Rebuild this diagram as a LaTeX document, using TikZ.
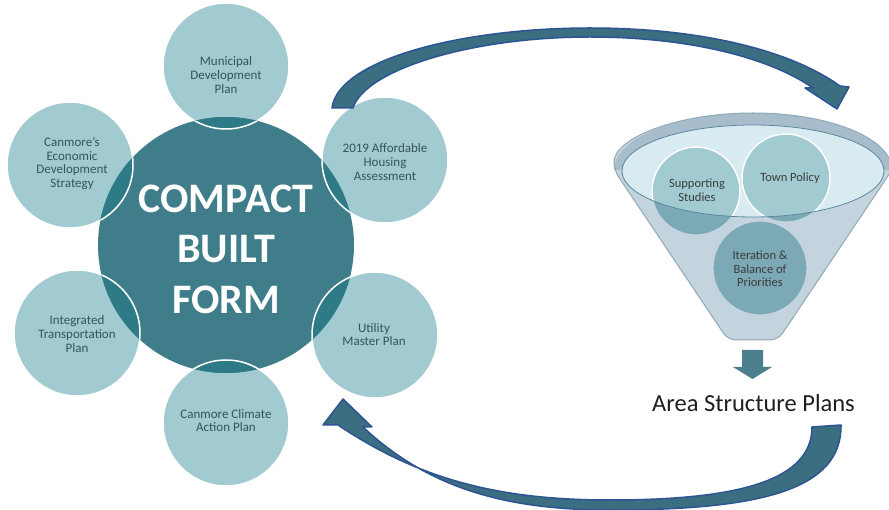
\documentclass[tikz,border=0pt]{standalone}
\usepackage{fontspec}
\setmainfont{Carlito}
\definecolor{satfill}{HTML}{A1CBD1}
\definecolor{cenfill}{HTML}{407D8A}
\definecolor{lensfill}{HTML}{2E7A86}
\definecolor{sattext}{HTML}{35545D}
\definecolor{funtext}{HTML}{3C3C3C}
\definecolor{arrfill}{HTML}{3B6E80}
\definecolor{arrline}{HTML}{2D5593}
\definecolor{conefill}{HTML}{C4D4DE}
\definecolor{rimfill}{HTML}{A8BDCB}
\definecolor{openfill}{HTML}{D8EBF1}
\definecolor{openline}{HTML}{5A88A2}
\definecolor{coneline}{HTML}{90A8B8}
\definecolor{darkcirc}{HTML}{7CA9B6}
\definecolor{downarr}{HTML}{4B7F8E}
\begin{document}
\begin{tikzpicture}[x=1pt,y=-1pt,
  sat/.style={circle,fill=satfill,draw=white,line width=1.5pt,minimum size=126pt,inner sep=0pt},
  cen/.style={circle,fill=cenfill,minimum size=256pt,inner sep=0pt},
  stxt/.style={align=center,text=sattext,font=\fontsize{13}{13.9}\selectfont,inner sep=0pt},
  ftxt/.style={align=center,text=funtext,font=\fontsize{12.5}{13.5}\selectfont,inner sep=0pt},
  fcirc/.style={circle,fill=darkcirc,draw=conefill,line width=1.2pt,inner sep=0pt},
  bigarrow/.style={fill=arrfill,draw=arrline,line width=1.5pt,line join=round}]
\useasboundingbox (0,0) rectangle (889,510);
\fill[white] (0,0) rectangle (889,510);

% satellites
\node[sat] (municipal) at (226,66) {};
\node[sat] (housing) at (385,160) {};
\node[sat] (econ) at (70,165) {};
\node[sat] (transport) at (77,333) {};
\node[sat] (utility) at (375,335) {};
\node[sat] (climate) at (226,423) {};
% central
\node[cen] (cbf) at (226,245) {};
\begin{scope}
  \clip (cbf.center) circle[radius=128pt];
  \foreach \n in {municipal,housing,econ,transport,utility,climate}{
    \fill[lensfill] (\n.center) circle[radius=63pt];
    \draw[white,line width=1.5pt] (\n.center) circle[radius=63pt];
  }
\end{scope}

\node[align=center,text=white,font=\fontsize{42}{50.5}\selectfont\bfseries,inner sep=0pt] (cbftext) at (226,249) {COMPACT\\BUILT\\FORM};
\node[stxt] (tmun) at (226,75) {Municipal\\Development\\Plan};
\node[stxt] (thou) at (385,162) {2019 Affordable\\Housing\\Assessment};
\node[stxt] (teco) at (72,163.5) {Canmore's\\Economic\\Development\\Strategy};
\node[stxt] (ttra) at (77,334) {Integrated\\Transportation\\Plan};
\node[stxt] (tuti) at (374,334.5) {Utility\\Master Plan};
\node[stxt] (tcli) at (226,420.5) {Canmore Climate\\Action Plan};

% funnel
\fill[conefill] (614,170) arc[start angle=180,end angle=0,x radius=139pt,y radius=57pt]
  [rounded corners=8pt] -- (778,340) -- (728,340) -- cycle;
\begin{scope}
  \clip (600,100) rectangle (900,170);
  \fill[rimfill,even odd rule] (753,170) ellipse[x radius=139pt,y radius=57pt]
     (753,171) ellipse[x radius=131pt,y radius=46pt];
\end{scope}
\fill[openfill] (753,171) ellipse[x radius=131pt,y radius=46pt];
\node[fcirc,minimum size=88pt] (supp) at (696,191) {};
\node[fcirc,minimum size=88pt] (town) at (786,178) {};
\node[fcirc,minimum size=94pt] (iter) at (760,268) {};
\begin{scope}
  \clip (753,171) ellipse[x radius=131pt,y radius=46pt];
  \foreach \n in {supp,town}{
    \fill[satfill] (\n.center) circle[radius=44pt];
    \draw[white,line width=1.5pt] (\n.center) circle[radius=44pt];
  }
\end{scope}
\draw[openline,line width=0.8pt] (753,171) ellipse[x radius=131pt,y radius=46pt];
\draw[coneline,line width=1pt] (614,170) arc[start angle=180,end angle=0,x radius=139pt,y radius=57pt]
  [rounded corners=8pt] -- (778,340) -- (728,340) -- cycle;
\node[ftxt] (tsupp) at (697,190) {Supporting\\Studies};
\node[ftxt] (ttown) at (790,178) {Town Policy};
\node[ftxt] (titer) at (760,269) {Iteration \&\\Balance of\\Priorities};

% down arrow
\fill[downarr] (742,350) -- (763,350) -- (763,367) -- (772,367) -- (752.5,379) -- (733,367) -- (742,367) -- cycle;
\node[anchor=base,font=\fontsize{24.5}{28}\selectfont,text=black!88,inner sep=0pt] (asp) at (753.5,412) {Area Structure Plans};

% big curved arrows
\filldraw[bigarrow] (332,108) .. controls (338,60) and (460,28) .. (590,28)
  .. controls (700,28) and (790,50) .. (840,86) -- (849,87) -- (837,109) -- (805,88) -- (813,88)
  .. controls (770,58) and (690,37) .. (590,37) .. controls (470,37) and (365,70) .. (353,108) -- cycle;
\filldraw[bigarrow] (812,427) .. controls (812,480) and (740,500) .. (610,500)
  .. controls (500,500) and (420,480) .. (338,425) -- (323,425) -- (343,399) -- (372,427) -- (363,427)
  .. controls (430,490) and (510,510) .. (610,510) .. controls (760,510) and (842,490) .. (841,425) -- cycle;
\end{tikzpicture}
\end{document}
